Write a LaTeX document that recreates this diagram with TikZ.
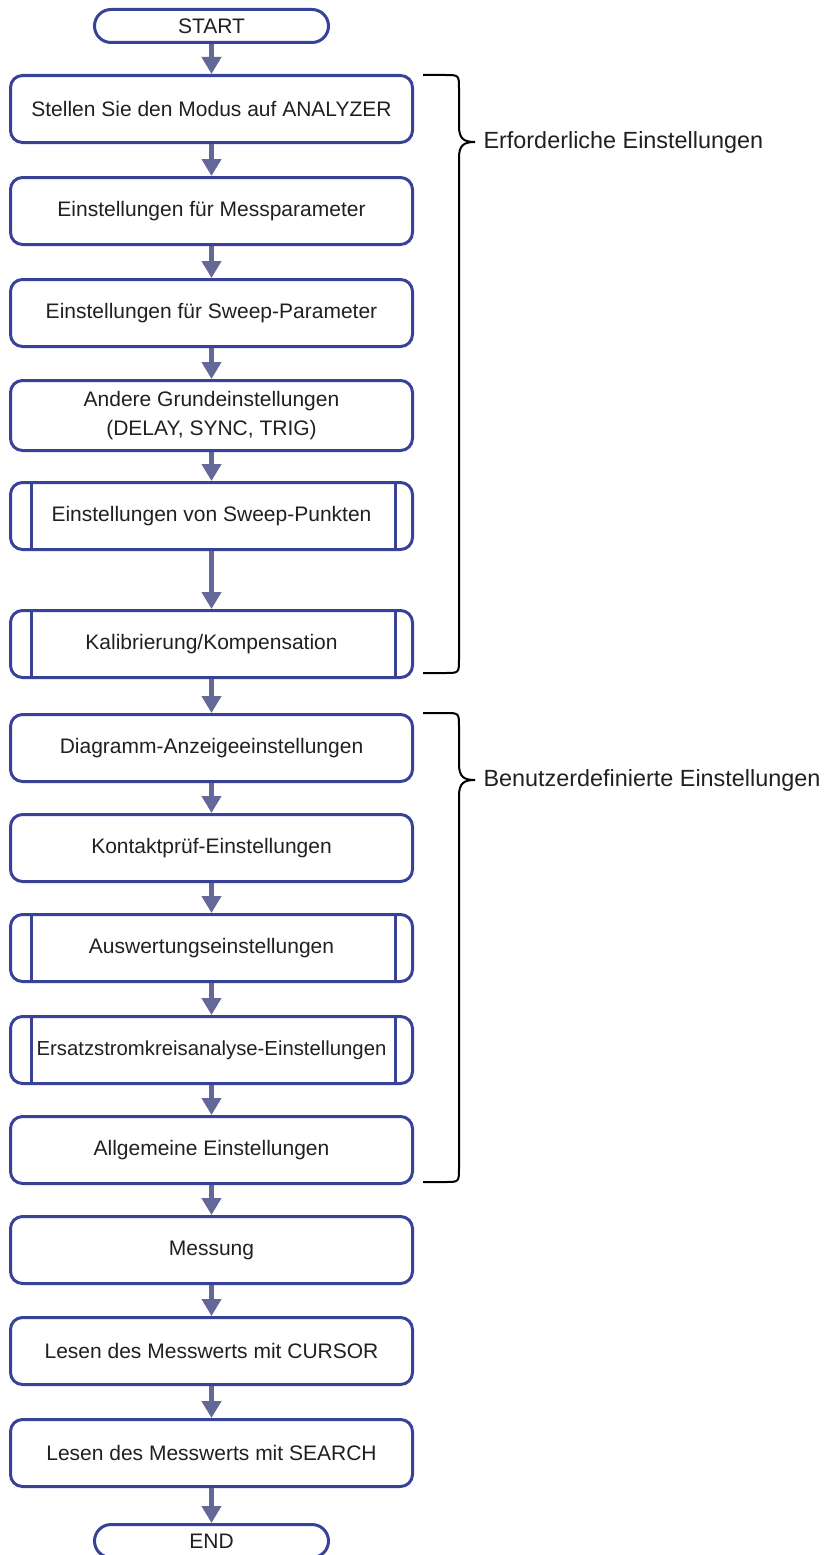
\documentclass[tikz,border=0pt]{standalone}
\usepackage{fontspec}
\setmainfont{Liberation Sans}
\usetikzlibrary{positioning,arrows.meta}

\definecolor{boxblue}{RGB}{56,66,152}
\definecolor{flowgray}{RGB}{100,104,152}
\definecolor{textdark}{RGB}{35,31,32}

\tikzset{
  process/.style={draw=boxblue, line width=3pt, rounded corners=12pt,
    minimum width=402pt, minimum height=67pt, align=center, text=textdark,
    font=\fontsize{21}{29}\selectfont},
  terminal/.style={process, rounded corners=16.5pt, minimum width=234pt, minimum height=33pt},
  flow/.style={draw=flowgray, line width=4.5pt, -{Triangle[width=19pt,length=17pt]}},
  barline/.style={draw=boxblue, line width=3pt},
  brace/.style={draw=black, line width=2pt},
  group/.style={anchor=west, text=textdark, font=\fontsize{23.4}{28}\selectfont}
}

\begin{document}
\begin{tikzpicture}[x=1pt,y=-1pt]
  \useasboundingbox (0,0) rectangle (828,1555);

  \node[terminal] (start) at (211.5,26) {START};
  \node[process, below=30pt of start] (mode) {Stellen Sie den Modus auf ANALYZER};
  \node[process, below=32pt of mode] (meas) {Einstellungen für Messparameter};
  \node[process, below=32pt of meas] (sweep) {Einstellungen für Sweep-Parameter};
  \node[process, below=31pt of sweep, minimum height=70pt] (basic) {Andere Grundeinstellungen\\(DELAY, SYNC, TRIG)};
  \node[process, below=29pt of basic] (points) {Einstellungen von Sweep-Punkten};
  \node[process, below=58pt of points] (calib) {Kalibrierung/Kompensation};
  \node[process, below=34pt of calib] (chart) {Diagramm-Anzeigeeinstellungen};
  \node[process, below=30pt of chart] (contact) {Kontaktprüf-Einstellungen};
  \node[process, below=30pt of contact] (judge) {Auswertungseinstellungen};
  \node[process, below=32pt of judge, font=\fontsize{20.3}{29}\selectfont] (equiv) {Ersatzstromkreisanalyse-Einstellungen};
  \node[process, below=30pt of equiv] (general) {Allgemeine Einstellungen};
  \node[process, below=30pt of general] (run) {Messung};
  \node[process, below=31pt of run] (cursor) {Lesen des Messwerts mit CURSOR};
  \node[process, below=32pt of cursor] (search) {Lesen des Messwerts mit SEARCH};
  \node[terminal, below=35pt of search] (end) {END};

  % sub-process bars
  \draw[barline] ([xshift=22pt]points.north west) -- ([xshift=22pt]points.south west)
    ([xshift=-19pt]points.north east) -- ([xshift=-19pt]points.south east);
  \draw[barline] ([xshift=22pt]calib.north west) -- ([xshift=22pt]calib.south west)
    ([xshift=-19pt]calib.north east) -- ([xshift=-19pt]calib.south east);
  \draw[barline] ([xshift=22pt]judge.north west) -- ([xshift=22pt]judge.south west)
    ([xshift=-19pt]judge.north east) -- ([xshift=-19pt]judge.south east);
  \draw[barline] ([xshift=22pt]equiv.north west) -- ([xshift=22pt]equiv.south west)
    ([xshift=-19pt]equiv.north east) -- ([xshift=-19pt]equiv.south east);

  \draw[flow] (start) -- (mode);
  \draw[flow] (mode) -- (meas);
  \draw[flow] (meas) -- (sweep);
  \draw[flow] (sweep) -- (basic);
  \draw[flow] (basic) -- (points);
  \draw[flow] (points) -- (calib);
  \draw[flow] (calib) -- (chart);
  \draw[flow] (chart) -- (contact);
  \draw[flow] (contact) -- (judge);
  \draw[flow] (judge) -- (equiv);
  \draw[flow] (equiv) -- (general);
  \draw[flow] (general) -- (run);
  \draw[flow] (run) -- (cursor);
  \draw[flow] (cursor) -- (search);
  \draw[flow] (search) -- (end);

  % groups
  \node[group] (required) at (480,142) {Erforderliche Einstellungen};
  \node[group] (custom) at (480,780) {Benutzerdefinierte Einstellungen};
  \draw[brace] (423,75) -- (445,75) .. controls (459,75) .. (459,89) -- (459,126)
    .. controls (459,139) and (464,142) .. (475,142)
    .. controls (464,142) and (459,145) .. (459,158) -- (459,659)
    .. controls (459,673) .. (445,673) -- (423,673);
  \draw[brace] (423,713) -- (445,713) .. controls (459,713) .. (459,727) -- (459,764)
    .. controls (459,777) and (464,780) .. (475,780)
    .. controls (464,780) and (459,783) .. (459,796) -- (459,1168)
    .. controls (459,1182) .. (445,1182) -- (423,1182);
\end{tikzpicture}
\end{document}
